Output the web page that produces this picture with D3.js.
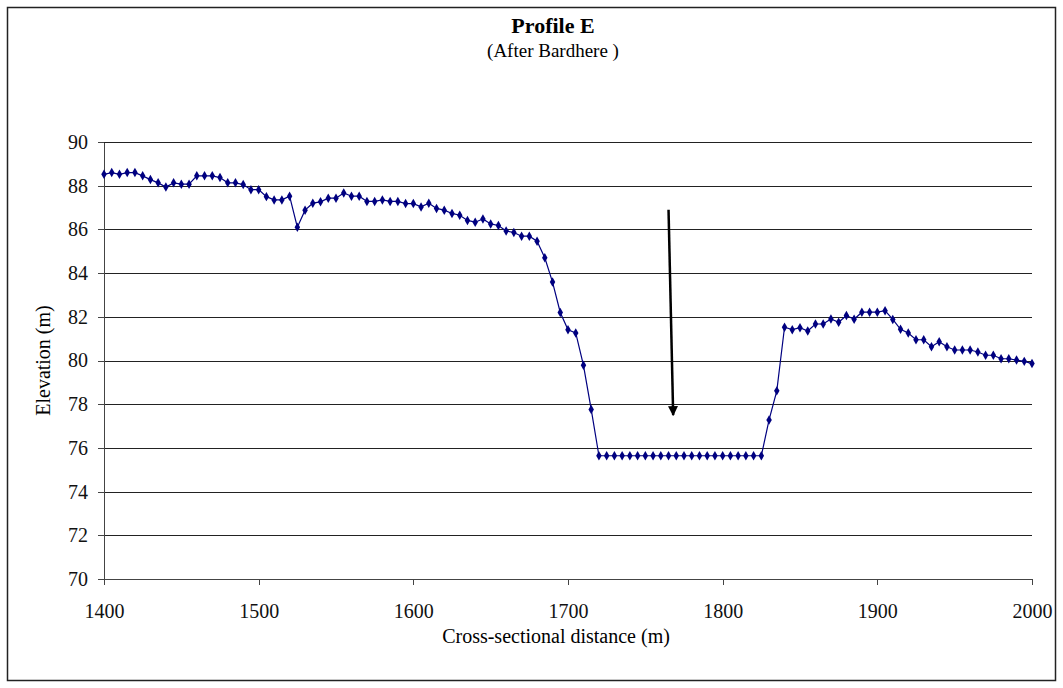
<html>
<head>
  <script src="https://d3js.org/d3.v7.min.js"></script>
  <style>
    body { margin: 0; background: #fff; font-family: 'Liberation Serif', 'Times New Roman', serif; }
    .grid line { stroke: #222; shape-rendering: crispEdges; }
    .axis path, .axis line { stroke: #444; shape-rendering: crispEdges; }
    .axis text { font-family: 'Liberation Serif', serif; font-size: 20px; fill: #111; }
  </style>
</head>
<body>
  <svg id="chart" width="1063" height="688"></svg>
  <script>
    // ---- data ----
    const distance = d3.range(1400, 2001, 5);
    const elevation = [
      88.52, 88.60, 88.52, 88.60, 88.60, 88.45, 88.28, 88.13, 87.94, 88.13,
      88.07, 88.07, 88.45, 88.45, 88.45, 88.37, 88.13, 88.13, 88.05, 87.82,
      87.82, 87.50, 87.35, 87.35, 87.52, 86.10, 86.88, 87.20, 87.26, 87.43,
      87.43, 87.67, 87.52, 87.52, 87.28, 87.28, 87.35, 87.28, 87.28, 87.18,
      87.18, 87.03, 87.20, 86.96, 86.88, 86.73, 86.65, 86.41, 86.33, 86.48,
      86.25, 86.18, 85.93, 85.86, 85.69, 85.69, 85.46, 84.70, 83.59, 82.20,
      81.41, 81.26, 79.78, 77.76, 75.64, 75.64, 75.64, 75.64, 75.64, 75.64,
      75.64, 75.64, 75.64, 75.64, 75.64, 75.64, 75.64, 75.64, 75.64, 75.64,
      75.64, 75.64, 75.64, 75.64, 75.64, 75.64, 77.28, 78.61, 81.52, 81.41,
      81.50, 81.35, 81.67, 81.67, 81.90, 81.75, 82.06, 81.89, 82.21, 82.21,
      82.21, 82.28, 81.88, 81.43, 81.26, 80.95, 80.95, 80.63, 80.86, 80.63,
      80.48, 80.48, 80.48, 80.39, 80.24, 80.24, 80.08, 80.08, 80.02, 79.96,
      79.86
    ];
    const xTicks = [1400, 1500, 1600, 1700, 1800, 1900, 2000];
    const yTicks = [70, 72, 74, 76, 78, 80, 82, 84, 86, 88, 90];
    const arrowFrom = [1765, 86.9];
    const arrowTo = [1768, 77.5];

    const points = distance.map((d, i) => ({ x: d, y: elevation[i] }));

    // ---- layout ----
    const svg = d3.select("#chart");
    const margin = { top: 142, right: 31, bottom: 109, left: 104 };
    const width = 1063 - margin.left - margin.right;
    const height = 688 - margin.top - margin.bottom;

    // outer chart border
    svg.append("rect")
      .attr("x", 7.5).attr("y", 7.5)
      .attr("width", 1048).attr("height", 673)
      .attr("fill", "none").attr("stroke", "#222").attr("stroke-width", 1.5);

    const g = svg.append("g").attr("transform", `translate(${margin.left},${margin.top})`);

    const x = d3.scaleLinear().domain([1400, 2000]).range([0, width]);
    const y = d3.scaleLinear().domain([70, 90]).range([height, 0]);

    // horizontal gridlines
    g.append("g").attr("class", "grid")
      .call(d3.axisLeft(y).tickValues(yTicks).tickSize(-width).tickFormat(""))
      .call(s => s.select(".domain").remove());

    // axes
    g.append("g").attr("class", "axis")
      .attr("transform", `translate(0,${height})`)
      .call(d3.axisBottom(x).tickValues(xTicks).tickFormat(d3.format("d"))
        .tickSize(6).tickSizeOuter(0).tickPadding(19));
    g.append("g").attr("class", "axis")
      .call(d3.axisLeft(y).tickValues(yTicks).tickSize(6).tickSizeOuter(0).tickPadding(10));

    // profile line
    const line = d3.line().x(d => x(d.x)).y(d => y(d.y));
    g.append("path").datum(points)
      .attr("fill", "none").attr("stroke", "#000080").attr("stroke-width", 1.2)
      .attr("d", line);

    g.selectAll("path.marker")
      .data(points)
      .join("path").attr("class", "marker")
      .attr("transform", d => `translate(${x(d.x)},${y(d.y)})`)
      .attr("d", d3.symbol(d3.symbolDiamond, 26))
      .attr("fill", "#000080");

    // arrow
    svg.append("defs").append("marker")
      .attr("id", "head").attr("viewBox", "0 0 10 10")
      .attr("refX", 9).attr("refY", 5)
      .attr("markerWidth", 4).attr("markerHeight", 4)
      .attr("orient", "auto")
      .append("path").attr("d", "M0,0 L10,5 L0,10 Z").attr("fill", "#000");
    g.append("line")
      .attr("x1", x(arrowFrom[0])).attr("y1", y(arrowFrom[1]))
      .attr("x2", x(arrowTo[0])).attr("y2", y(arrowTo[1]))
      .attr("stroke", "#000").attr("stroke-width", 2.5)
      .attr("marker-end", "url(#head)");

    // titles
    svg.append("text").attr("x", 553).attr("y", 33)
      .attr("text-anchor", "middle").attr("font-weight", "bold").attr("font-size", 22)
      .text("Profile  E");
    svg.append("text").attr("x", 553).attr("y", 57)
      .attr("text-anchor", "middle").attr("font-size", 19)
      .text("(After Bardhere )");
    svg.append("text").attr("x", margin.left + width / 2 - 12).attr("y", 643)
      .attr("text-anchor", "middle").attr("font-size", 20)
      .text("Cross-sectional distance (m)");
    svg.append("text")
      .attr("transform", `translate(50,${margin.top + height / 2}) rotate(-90)`)
      .attr("text-anchor", "middle").attr("font-size", 20)
      .text("Elevation (m)");
  </script>
</body>
</html>
